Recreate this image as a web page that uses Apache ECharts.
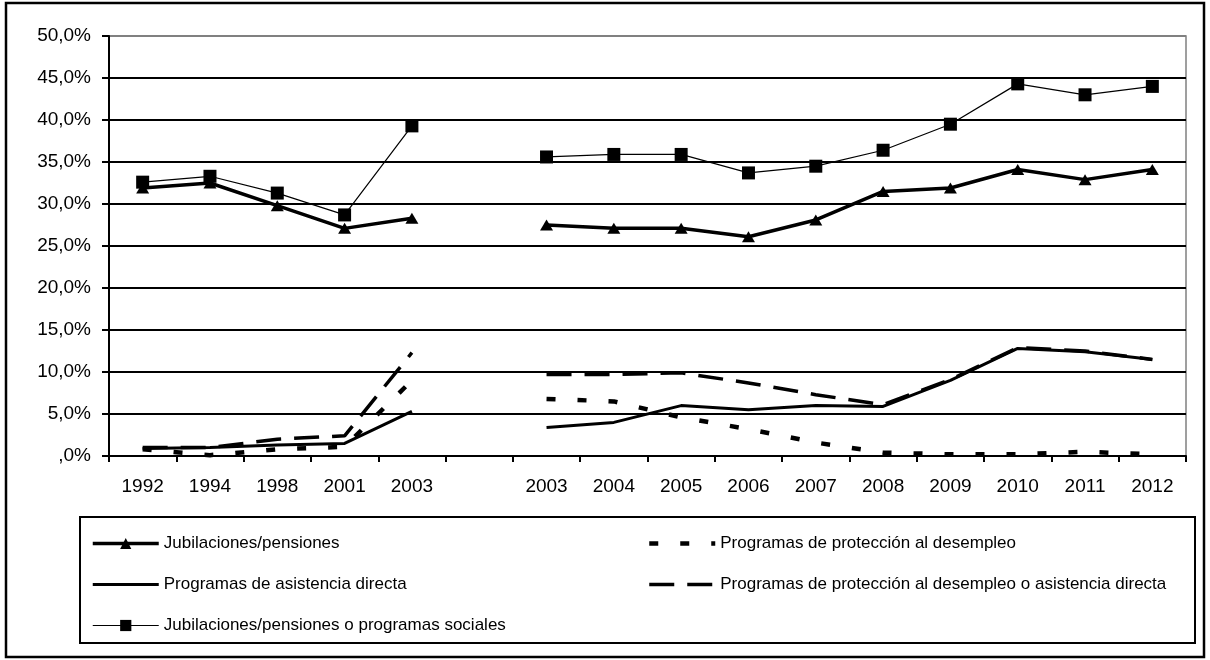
<!DOCTYPE html>
<html>
<head>
<meta charset="utf-8">
<script src="https://cdn.jsdelivr.net/npm/echarts@6/dist/echarts.min.js"></script>
<style>
html,body{margin:0;padding:0;background:#fff;}
#c{width:1210px;height:660px;}
</style>
</head>
<body>
<div id="c"></div>
<script>
var categories = ['1992','1994','1998','2001','2003','','2003','2004','2005','2006','2007','2008','2009','2010','2011','2012'];
var yTicks = [0,5,10,15,20,25,30,35,40,45,50];
var jubilaciones = [31.9, 32.5, 29.8, 27.1, 28.3, null, 27.5, 27.1, 27.1, 26.1, 28.1, 31.5, 31.9, 34.1, 32.9, 34.1];
var jubOProgramas = [32.6, 33.3, 31.3, 28.7, 39.3, null, 35.6, 35.9, 35.9, 33.7, 34.5, 36.4, 39.5, 44.3, 43.0, 44.0];
var asistencia = [0.9, 1.0, 1.3, 1.5, 5.3, null, 3.4, 4.0, 6.0, 5.5, 6.0, 5.9, 9.0, 12.8, 12.4, 11.5];
var desempleo = [0.8, 0.1, 0.8, 1.1, 9.0, null, 6.8, 6.5, 4.6, 3.2, 1.6, 0.4, 0.2, 0.2, 0.5, 0.2];
var desempleoOAsist = [1.0, 1.0, 2.0, 2.4, 12.3, null, 9.7, 9.7, 9.9, 8.7, 7.3, 6.1, 9.1, 12.9, 12.5, 11.5];

var names = {
  jub: 'Jubilaciones/pensiones',
  des: 'Programas de protección al desempleo',
  asi: 'Programas de asistencia directa',
  desAsi: 'Programas de protección al desempleo o asistencia directa',
  jubProg: 'Jubilaciones/pensiones o programas sociales'
};

var chart = echarts.init(document.getElementById('c'));
var splitColors = yTicks.map(function(v, i){ return i === yTicks.length - 1 ? '#808080' : '#000'; });

var legendText = {fontFamily: 'Liberation Sans, Arial, sans-serif', fontSize: 17, color: '#000'};
var axisFont = 'Liberation Sans, Arial, sans-serif';
var noMark = 'rgba(0,0,0,0)';

chart.setOption({
  animation: false,
  backgroundColor: '#fff',
  grid: {left: 109, right: 24, top: 36, bottom: 204, show: true, borderColor: '#808080', borderWidth: 1.5},
  xAxis: {
    type: 'category',
    data: categories,
    boundaryGap: true,
    axisLine: {lineStyle: {color: '#000', width: 2}},
    axisTick: {show: true, length: 6, lineStyle: {color: '#000', width: 2}, interval: 0},
    axisLabel: {interval: 0, margin: 21, color: '#000', fontSize: 19, fontFamily: axisFont},
    splitLine: {show: false}
  },
  yAxis: {
    type: 'value',
    min: 0, max: 50, interval: 5,
    axisLine: {show: true, lineStyle: {color: '#000', width: 2}},
    axisTick: {show: true, length: 7, lineStyle: {color: '#000', width: 2}},
    axisLabel: {
      margin: 18, color: '#000', fontSize: 19, fontFamily: axisFont,
      formatter: function(v){ return v === 0 ? ',0%' : v.toFixed(1).replace('.', ',') + '%'; }
    },
    splitLine: {show: true, lineStyle: {color: splitColors, width: 2}}
  },
  legend: [
    {
      orient: 'vertical', left: 86, top: 530, itemWidth: 66, itemHeight: 14, itemGap: 24,
      textStyle: legendText, lineStyle: {width: 'inherit'},
      data: [names.jub, names.asi, names.jubProg]
    },
    {
      orient: 'vertical', left: 642, top: 530, itemWidth: 66, itemHeight: 14, itemGap: 24,
      textStyle: legendText, lineStyle: {width: 'inherit'},
      data: [names.des, names.desAsi]
    }
  ],
  graphic: [
    {type: 'rect', shape: {x: 6, y: 3, width: 1198, height: 654}, style: {fill: 'none', stroke: '#000', lineWidth: 2.5}, silent: true},
    {type: 'rect', shape: {x: 80, y: 517, width: 1115, height: 126}, style: {fill: 'none', stroke: '#000', lineWidth: 2}, silent: true}
  ],
  series: [
    {
      name: names.jub, type: 'line', data: jubilaciones,
      symbol: 'triangle', symbolSize: [13, 11], connectNulls: false,
      lineStyle: {color: '#000', width: 3.5},
      itemStyle: {color: '#000'}
    },
    {
      name: names.des, type: 'line', data: desempleo,
      symbol: 'none', connectNulls: false,
      lineStyle: {color: '#000', width: 4.5, type: [9, 22], cap: 'butt'},
      itemStyle: {color: noMark}
    },
    {
      name: names.asi, type: 'line', data: asistencia,
      symbol: 'none', connectNulls: false,
      lineStyle: {color: '#000', width: 3},
      itemStyle: {color: noMark}
    },
    {
      name: names.desAsi, type: 'line', data: desempleoOAsist,
      symbol: 'none', connectNulls: false,
      lineStyle: {color: '#000', width: 3.5, type: [25, 13], cap: 'butt'},
      itemStyle: {color: noMark}
    },
    {
      name: names.jubProg, type: 'line', data: jubOProgramas,
      symbol: 'rect', symbolSize: 13, connectNulls: false,
      lineStyle: {color: '#000', width: 1.2},
      itemStyle: {color: '#000'}
    }
  ]
});
</script>
</body>
</html>
